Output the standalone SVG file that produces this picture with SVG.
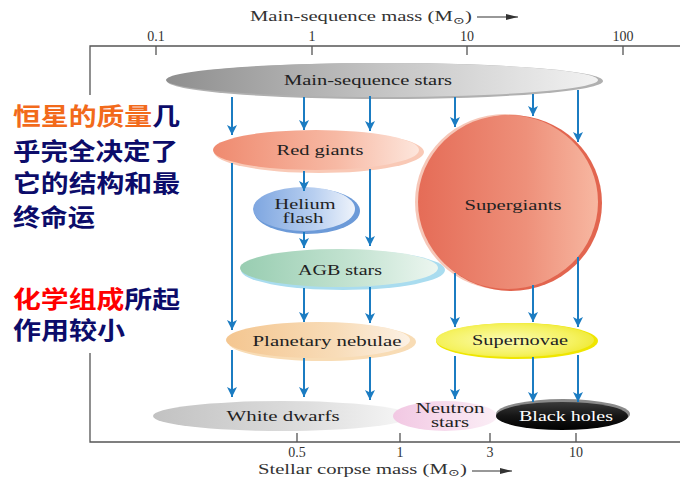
<svg xmlns="http://www.w3.org/2000/svg" width="680" height="479" viewBox="0 0 680 479">
<defs>
<style>
.ax{stroke:#555;stroke-width:1.3;fill:none}
.lbl{font-family:"Liberation Serif","DejaVu Serif",serif;font-size:15px;fill:#222;text-anchor:middle}
.tk{font-family:"Liberation Serif","DejaVu Serif",serif;font-size:14px;fill:#333;text-anchor:middle}
.ttl{font-family:"Liberation Serif","DejaVu Serif",serif;font-size:14px;fill:#333}
.cn{font-family:"Noto Sans CJK SC","Noto Sans",sans-serif;font-size:24px;font-weight:bold;fill:#0c0c6a}
.arr{stroke:#1b7cc2;stroke-width:2;fill:none;marker-end:url(#ah)}
</style>
<marker id="ah" markerUnits="userSpaceOnUse" markerWidth="10" markerHeight="10" refX="10" refY="5" orient="auto">
<path d="M0,0 L10,5 L0,10 L2.5,5 z" fill="#1b7cc2"/>
</marker>
<marker id="ax" markerUnits="userSpaceOnUse" markerWidth="12" markerHeight="8" refX="12" refY="4" orient="auto">
<path d="M0,1 L12,4 L0,7 z" fill="#333"/>
</marker>
<linearGradient id="gMS" x1="0" y1="0" x2="1" y2="0"><stop offset="0" stop-color="#8e8e8e"/><stop offset="0.5" stop-color="#c4c4c4"/><stop offset="1" stop-color="#f2f2f2"/></linearGradient>
<linearGradient id="gRG" x1="0" y1="0" x2="1" y2="0"><stop offset="0" stop-color="#ef8a6f"/><stop offset="0.6" stop-color="#f7b9a4"/><stop offset="1" stop-color="#fde6dc"/></linearGradient>
<linearGradient id="gHF" x1="0" y1="0" x2="1" y2="0"><stop offset="0" stop-color="#7ea6e0"/><stop offset="0.6" stop-color="#b8cff0"/><stop offset="1" stop-color="#eef3fb"/></linearGradient>
<linearGradient id="gAGB" x1="0" y1="0" x2="1" y2="0"><stop offset="0" stop-color="#98cdb1"/><stop offset="0.6" stop-color="#c6e4d3"/><stop offset="1" stop-color="#ecf6f0"/></linearGradient>
<linearGradient id="gSG" x1="0" y1="0" x2="1" y2="0"><stop offset="0" stop-color="#e56c57"/><stop offset="0.6" stop-color="#ee907a"/><stop offset="1" stop-color="#f7b7a1"/></linearGradient>
<linearGradient id="gPN" x1="0" y1="0" x2="1" y2="0"><stop offset="0" stop-color="#f4c690"/><stop offset="0.6" stop-color="#f8dcb8"/><stop offset="1" stop-color="#fcf1e4"/></linearGradient>
<radialGradient id="gSN" cx="0.45" cy="0.5" r="0.6"><stop offset="0" stop-color="#fbfbb2"/><stop offset="0.7" stop-color="#f5f260"/><stop offset="1" stop-color="#efe830"/></radialGradient>
<linearGradient id="gWD" x1="0" y1="0" x2="1" y2="0"><stop offset="0" stop-color="#c2c2c2"/><stop offset="0.6" stop-color="#dedede"/><stop offset="1" stop-color="#f7f7f7"/></linearGradient>
<linearGradient id="gNS" x1="0" y1="0" x2="1" y2="0"><stop offset="0" stop-color="#f2c8e3"/><stop offset="1" stop-color="#fbeef6"/></linearGradient>
<linearGradient id="gBH" x1="0" y1="0" x2="0" y2="1"><stop offset="0" stop-color="#3a3a3a"/><stop offset="0.5" stop-color="#151515"/><stop offset="1" stop-color="#000"/></linearGradient>
</defs>
<rect width="680" height="479" fill="#fff"/>

<g id="axes">
<text class="ttl" x="250" y="21" textLength="222" lengthAdjust="spacingAndGlyphs">Main-sequence mass (M<tspan font-size="10" dy="3">⊙</tspan><tspan dy="-3">)</tspan></text>
<line x1="477" y1="17" x2="518" y2="17" stroke="#333" stroke-width="1.2" marker-end="url(#ax)"/>
<path class="ax" d="M90,95 V46 H680"/>
<path class="ax" d="M156,46 V55 M312,46 V55 M467,46 V55 M623,46 V55"/>
<text class="tk" x="156" y="41">0.1</text>
<text class="tk" x="312" y="41">1</text>
<text class="tk" x="467" y="41">10</text>
<text class="tk" x="623" y="41">100</text>
<path class="ax" d="M90,353 V442 H680"/>
<path class="ax" d="M297,433 V442 M400,433 V442 M490,433 V442 M576,433 V442"/>
<text class="tk" x="297" y="457">0.5</text>
<text class="tk" x="400" y="457">1</text>
<text class="tk" x="490" y="457">3</text>
<text class="tk" x="576" y="457">10</text>
<text class="ttl" x="258" y="474" textLength="209" lengthAdjust="spacingAndGlyphs">Stellar corpse mass (M<tspan font-size="10" dy="2">⊙</tspan><tspan dy="-2">)</tspan></text>
<line x1="472" y1="471" x2="512" y2="471" stroke="#333" stroke-width="1.2" marker-end="url(#ax)"/>
</g>

<g id="note">
<text class="cn" x="13" y="125" textLength="167" lengthAdjust="spacingAndGlyphs"><tspan fill="#f26a1b">恒星的质量</tspan>几</text>
<text class="cn" x="13" y="160" textLength="165" lengthAdjust="spacingAndGlyphs">乎完全决定了</text>
<text class="cn" x="13" y="192" textLength="167" lengthAdjust="spacingAndGlyphs">它的结构和最</text>
<text class="cn" x="13" y="226" textLength="82" lengthAdjust="spacingAndGlyphs">终命运</text>
<text class="cn" x="13" y="308" textLength="167" lengthAdjust="spacingAndGlyphs"><tspan fill="#ff0000">化学组成</tspan>所起</text>
<text class="cn" x="13" y="339" textLength="112" lengthAdjust="spacingAndGlyphs">作用较小</text>
</g>

<g id="main-sequence">
<ellipse cx="385" cy="81" rx="218" ry="18" fill="#b0b0b0"/>
<ellipse cx="382" cy="80" rx="216" ry="17" fill="url(#gMS)"/>
<text class="lbl" x="368" y="85" textLength="168" lengthAdjust="spacingAndGlyphs">Main-sequence stars</text>
</g>

<g id="red-giants">
<ellipse cx="319" cy="152" rx="105" ry="21" fill="#f9c9b6"/>
<ellipse cx="316" cy="150" rx="103" ry="20" fill="url(#gRG)"/>
<text class="lbl" x="320" y="155" textLength="87" lengthAdjust="spacingAndGlyphs">Red giants</text>
</g>

<g id="helium-flash">
<ellipse cx="307" cy="211" rx="53" ry="23" fill="#6c9ad8"/>
<ellipse cx="304" cy="209" rx="51" ry="22" fill="url(#gHF)"/>
<text class="lbl" x="305" y="209" textLength="61" lengthAdjust="spacingAndGlyphs">Helium</text>
<text class="lbl" x="303" y="223" textLength="41" lengthAdjust="spacingAndGlyphs">flash</text>
</g>

<g id="agb-stars">
<ellipse cx="343" cy="270" rx="102" ry="20" fill="#a9dcef"/>
<ellipse cx="339" cy="268" rx="99" ry="19" fill="url(#gAGB)"/>
<text class="lbl" x="340" y="275" textLength="84" lengthAdjust="spacingAndGlyphs">AGB stars</text>
</g>

<g id="supergiants">
<ellipse cx="505" cy="202" rx="90" ry="88" fill="#f6c7b8"/>
<ellipse cx="511" cy="203" rx="91" ry="88" fill="#e2654f"/>
<ellipse cx="508" cy="202" rx="90" ry="87" fill="url(#gSG)"/>
<text class="lbl" x="513" y="210" textLength="97" lengthAdjust="spacingAndGlyphs">Supergiants</text>
</g>

<g id="planetary-nebulae">
<ellipse cx="322" cy="342" rx="94" ry="19" fill="#f8dcb5"/>
<ellipse cx="318" cy="340" rx="92" ry="18" fill="url(#gPN)"/>
<text class="lbl" x="327" y="346" textLength="149" lengthAdjust="spacingAndGlyphs">Planetary nebulae</text>
</g>

<g id="supernovae">
<ellipse cx="517" cy="341" rx="81" ry="18" fill="#efe600"/>
<ellipse cx="515" cy="340" rx="79" ry="17" fill="url(#gSN)"/>
<text class="lbl" x="520" y="345" textLength="96" lengthAdjust="spacingAndGlyphs">Supernovae</text>
</g>

<g id="white-dwarfs">
<ellipse cx="282" cy="416" rx="129" ry="15" fill="url(#gWD)"/>
<text class="lbl" x="283" y="421" textLength="113" lengthAdjust="spacingAndGlyphs">White dwarfs</text>
</g>

<g id="neutron-stars">
<ellipse cx="445" cy="416" rx="52" ry="15" fill="url(#gNS)"/>
<text class="lbl" x="450" y="413" textLength="69" lengthAdjust="spacingAndGlyphs">Neutron</text>
<text class="lbl" x="450" y="427" textLength="38" lengthAdjust="spacingAndGlyphs">stars</text>
</g>

<g id="black-holes">
<ellipse cx="563" cy="414" rx="67" ry="15" fill="#8a8a8a"/>
<ellipse cx="562" cy="416" rx="66" ry="14" fill="url(#gBH)"/>
<text class="lbl" x="566" y="421" style="fill:#fff" textLength="94" lengthAdjust="spacingAndGlyphs">Black holes</text>
</g>

<g id="connectors">
<line class="arr" x1="232" y1="97" x2="232" y2="135"/>
<line class="arr" x1="304" y1="97" x2="304" y2="130"/>
<line class="arr" x1="370" y1="96" x2="370" y2="131"/>
<line class="arr" x1="455" y1="97" x2="455" y2="127"/>
<line class="arr" x1="533" y1="94" x2="533" y2="116"/>
<line class="arr" x1="578" y1="90" x2="578" y2="142"/>
<line class="arr" x1="232" y1="163" x2="232" y2="330"/>
<line class="arr" x1="304" y1="171" x2="304" y2="191"/>
<line class="arr" x1="370" y1="169" x2="370" y2="246"/>
<line class="arr" x1="304" y1="232" x2="304" y2="248"/>
<line class="arr" x1="304" y1="288" x2="304" y2="322"/>
<line class="arr" x1="370" y1="287" x2="370" y2="323"/>
<line class="arr" x1="455" y1="273" x2="455" y2="327"/>
<line class="arr" x1="533" y1="285" x2="533" y2="322"/>
<line class="arr" x1="578" y1="257" x2="578" y2="327"/>
<line class="arr" x1="232" y1="350" x2="232" y2="397"/>
<line class="arr" x1="304" y1="358" x2="304" y2="397"/>
<line class="arr" x1="370" y1="357" x2="370" y2="400"/>
<line class="arr" x1="455" y1="356" x2="455" y2="399"/>
<line class="arr" x1="533" y1="357" x2="533" y2="402"/>
<line class="arr" x1="578" y1="355" x2="578" y2="402"/>
</g>
</svg>
